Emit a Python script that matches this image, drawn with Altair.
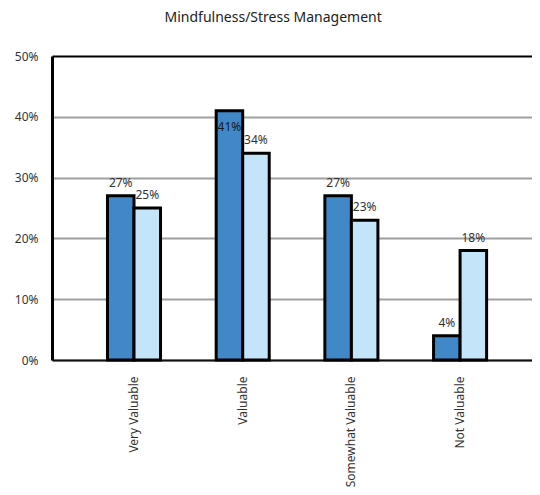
import altair as alt
import pandas as pd

categories = ["Very Valuable", "Valuable", "Somewhat Valuable", "Not Valuable"]
series_names = ["Series A", "Series B"]
series_a = [0.27, 0.41, 0.27, 0.04]
series_b = [0.25, 0.34, 0.23, 0.18]
y_ticks = [0, 0.1, 0.2, 0.3, 0.4, 0.5]

rows = []
for c, a, b in zip(categories, series_a, series_b):
    rows.append({"cat": c, "series": series_names[0], "v": a})
    rows.append({"cat": c, "series": series_names[1], "v": b})
df = pd.DataFrame(rows)

FONT = "Noto Sans"
TXT = "#333333"

x = alt.X("cat:N", sort=categories, title=None,
          scale=alt.Scale(paddingInner=0.512, paddingOuter=0.464, align=0.55),
          axis=alt.Axis(labelAngle=270, labelAlign="right", labelBaseline="middle",
                        labelPadding=16, ticks=False, domainColor="#111111",
                        domainWidth=2, labelFont=FONT, labelFontSize=12,
                        labelColor=TXT, labelLimit=200))
xo = alt.XOffset("series:N", sort=series_names)
y = alt.Y("v:Q", title=None,
          scale=alt.Scale(domain=[0, 0.5], nice=False),
          axis=alt.Axis(values=y_ticks, format=".0%", ticks=False, labelPadding=14,
                        domainColor="#000000", domainWidth=3,
                        gridColor={"condition": {"test": "datum.value >= 0.5", "value": "#000000"},
                                   "value": "#a0a0a0"},
                        gridWidth=2, labelFont=FONT, labelFontSize=12, labelColor=TXT))

base = alt.Chart(df)

bars = base.mark_bar(stroke="#000000", strokeWidth=3).encode(
    x=x, xOffset=xo, y=y,
    color=alt.Color("series:N", sort=series_names, legend=None,
                    scale=alt.Scale(domain=series_names, range=["#4088c8", "#c4e4fa"])),
)

lab_out = base.transform_filter("datum.v <= 0.4").mark_text(
    baseline="bottom", dy=-6, font=FONT, fontSize=12, color=TXT
).encode(x=x, xOffset=xo, y=y, text=alt.Text("v:Q", format=".0%"))

lab_in = base.transform_filter("datum.v > 0.4").mark_text(
    baseline="top", dy=11, font=FONT, fontSize=12, color="#1a1a1a"
).encode(x=x, xOffset=xo, y=y, text=alt.Text("v:Q", format=".0%"))

chart = alt.layer(bars, lab_out, lab_in).properties(
    width=524, height=479,
    autosize=alt.AutoSizeParams(type="fit", contains="padding"),
    padding={"left": 6, "top": 3, "right": 0, "bottom": 0},
    title=alt.TitleParams("Mindfulness/Stress Management", anchor="middle", frame="bounds",
                          font=FONT, fontSize=14, fontWeight="normal", color="#222222",
                          offset=25),
).configure_view(stroke=None)

chart.save("out.html", embed_options={"renderer": "svg", "actions": False})
